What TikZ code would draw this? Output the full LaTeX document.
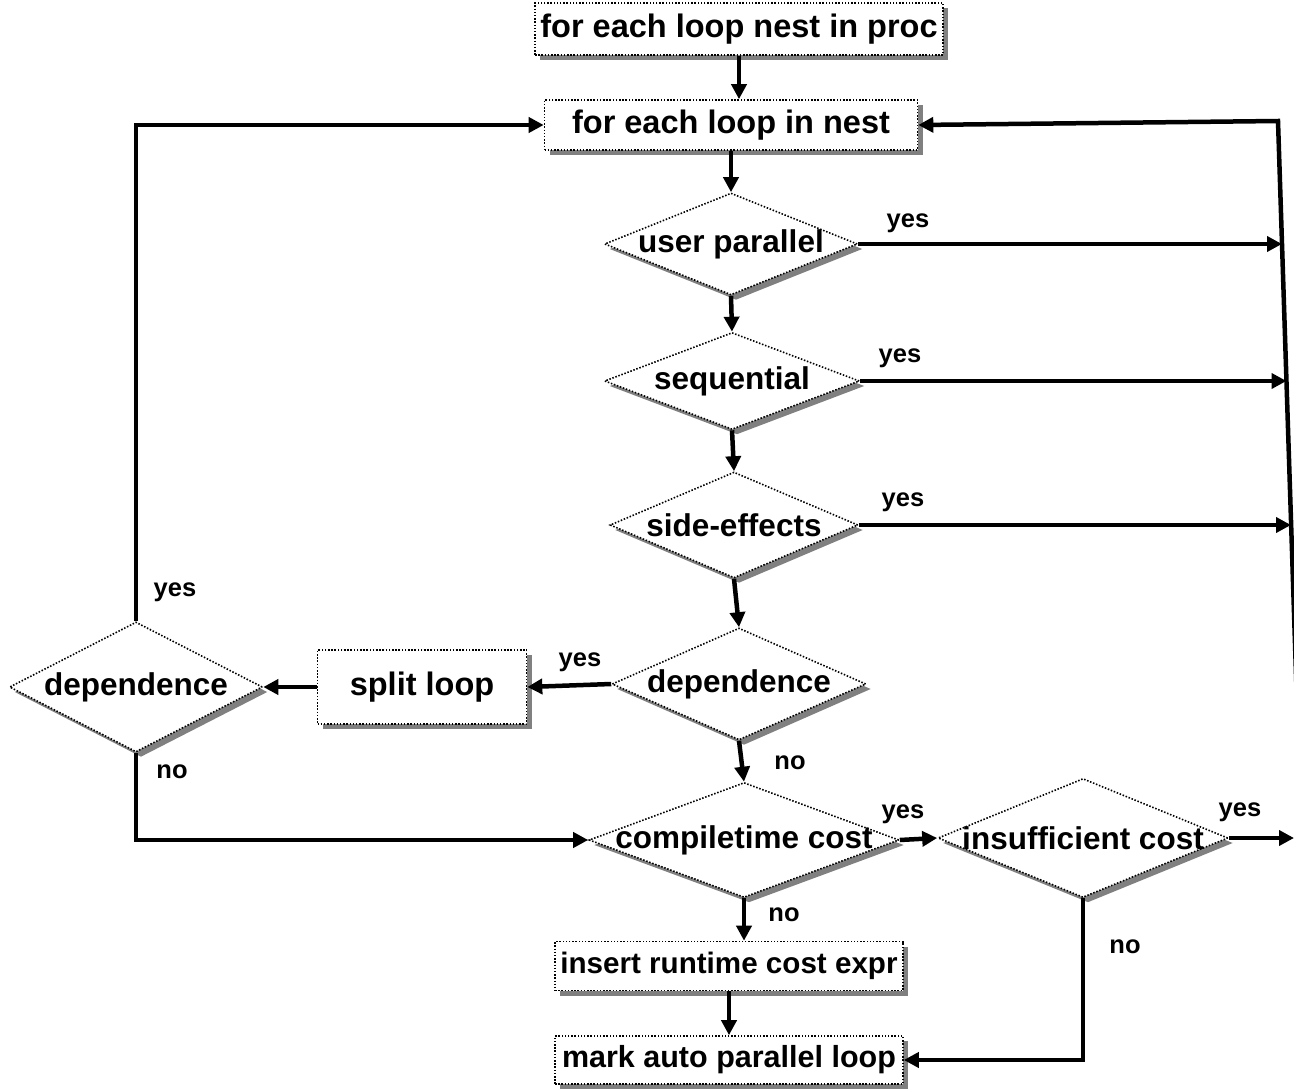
\documentclass[tikz,border=0pt]{standalone}
\usepackage{fontspec}
\setmainfont{Liberation Sans}
\usetikzlibrary{shapes.geometric,shadows,arrows.meta}
\newcommand{\dtext}[1]{\makebox[0pt]{#1}}
\tikzset{
  block/.style={
    draw, line width=1.6pt, dash pattern=on 1.5pt off 1.7pt,
    fill=white, inner sep=0pt,
    drop shadow={shadow xshift=5pt, shadow yshift=-5pt, fill=gray, opacity=1},
    font=\bfseries\fontsize{32.5}{36}\selectfont
  },
  decision/.style={block, diamond, font=\bfseries\fontsize{31.5}{36}\selectfont},
  answer/.style={font=\bfseries\fontsize{25.5}{28}\selectfont},
  flow/.style={line width=4.5pt, -{Triangle[length=15pt,width=15pt]}},
  wire/.style={line width=4.5pt}
}

\begin{document}
\begin{tikzpicture}[x=1pt, y=-1pt]
      \useasboundingbox (0,0) rectangle (1294,1092);

      \node [block, minimum width=408pt, minimum height=52pt] (Nest) at (739,29) {for each loop nest in proc};
      \node [block, minimum width=373pt, minimum height=50pt] (Loop) at (731,125) {for each loop in nest};
      \node [decision, minimum width=253pt, minimum height=102pt] (User) at (731,244) {\dtext{user parallel}};
      \node [decision, minimum width=255pt, minimum height=97pt] (Seq) at (732,381) {\dtext{sequential}};
      \node [decision, minimum width=248pt, minimum height=106pt] (Side) at (734,525) {\dtext{side-effects}};
      \node [decision, minimum width=254pt, minimum height=112pt] (Dep) at (739,684) {\dtext{dependence}};
      \node [block, minimum width=209pt, minimum height=74pt] (Split) at (422,687) {split loop};
      \node [decision, minimum width=253pt, minimum height=130pt] (DepL) at (136,687) {\dtext{dependence}};
      \node [decision, minimum width=310pt, minimum height=115pt] (Cost) at (744,840) {\dtext{compiletime cost}};
      \node [decision, minimum width=290pt, minimum height=119pt] (Low) at (1083,838) {\dtext{insufficient cost}};
      \node [block, minimum width=348pt, minimum height=49pt, font=\bfseries\fontsize{29.6}{36}\selectfont] (Insert) at (729,966) {insert runtime cost expr};
      \node [block, minimum width=348pt, minimum height=48pt, font=\bfseries\fontsize{30.5}{36}\selectfont] (Mark) at (729,1060) {mark auto parallel loop};

      % yes / no labels
      \node [answer] (UserYes) at (908,223) {yes};
      \node [answer] (SeqYes) at (900,358) {yes};
      \node [answer] (SideYes) at (903,502) {yes};
      \node [answer] (DepYes) at (580,662) {yes};
      \node [answer] (DepNo) at (790,763) {no};
      \node [answer] (DepLYes) at (175,592) {yes};
      \node [answer] (DepLNo) at (172,772) {no};
      \node [answer] (CostYes) at (903,814) {yes};
      \node [answer] (CostNo) at (784,915) {no};
      \node [answer] (LowYes) at (1240,812) {yes};
      \node [answer] (LowNo) at (1125,947) {no};

      % slanted return line on the right
      \coordinate (RTop) at (1278,121);
      \coordinate (RBot) at (1297,705);
      \coordinate (UserHit) at (1282,244);
      \coordinate (SeqHit) at (1286.5,381);
      \coordinate (SideHit) at (1291,525);
      \coordinate (Out) at (1294,838);

      \draw [flow] (Nest.south) -- (Nest.south |- Loop.north);
      \draw [flow] (Loop.south) -- (User.north);
      \draw [flow] (User.south) -- (Seq.north);
      \draw [flow] (Seq.south) -- (Side.north);
      \draw [flow] (Side.south) -- (Dep.north);
      \draw [flow] (Dep.south) -- (Cost.north);
      \draw [flow] (Cost.south) -- (Cost.south |- Insert.north);
      \draw [flow] (Insert.south) -- (Mark.north);

      \draw [flow] (User.east) -- (UserHit);
      \draw [flow] (Seq.east) -- (SeqHit);
      \draw [flow] (Side.east) -- (SideHit);
      \draw [flow] (RBot) -- (RTop) -- (Loop.east);

      \draw [flow] (Dep.west) -- (Split.east);
      \draw [flow] (Split.west) -- (DepL.east);
      \draw [flow] (DepL.north) |- (Loop.west);
      \draw [flow] (DepL.south) |- (Cost.west);

      \draw [flow] (Cost.east) -- (Low.west);
      \draw [flow] (Low.east) -- (Out);
      \draw [flow] (Low.south) |- (Mark.east);
\end{tikzpicture}
\end{document}
